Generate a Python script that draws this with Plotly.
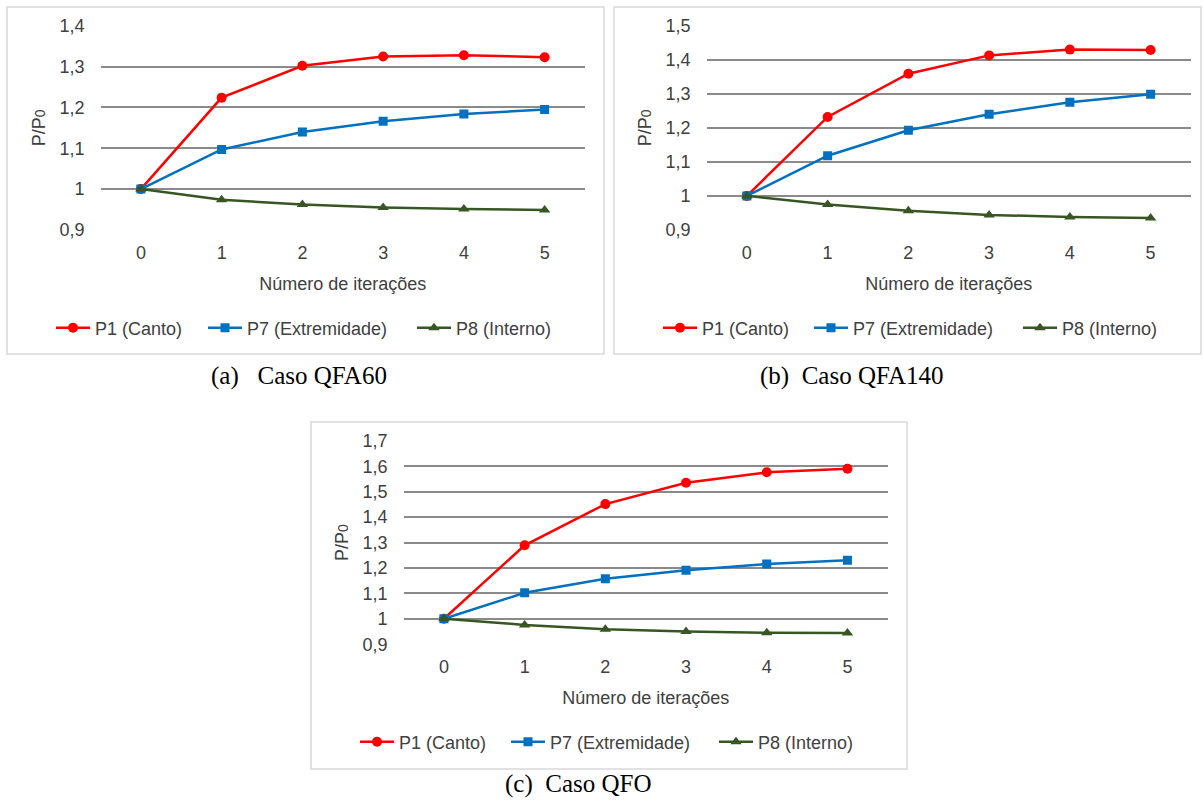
import plotly.graph_objects as go

W, H = 1203, 800

# ---------------- data ----------------
iterations = [0, 1, 2, 3, 4, 5]
x_ticklabels = ["0", "1", "2", "3", "4", "5"]
series_names = ["P1 (Canto)", "P7 (Extremidade)", "P8 (Interno)"]

qfa60_p1 = [1.000, 1.224, 1.302, 1.325, 1.328, 1.323]
qfa60_p7 = [1.000, 1.097, 1.140, 1.166, 1.184, 1.195]
qfa60_p8 = [1.000, 0.974, 0.962, 0.955, 0.951, 0.949]

qfa140_p1 = [1.000, 1.232, 1.359, 1.413, 1.430, 1.429]
qfa140_p7 = [1.000, 1.118, 1.193, 1.240, 1.275, 1.299]
qfa140_p8 = [1.000, 0.975, 0.956, 0.944, 0.938, 0.935]

qfo_p1 = [1.000, 1.289, 1.451, 1.535, 1.576, 1.590]
qfo_p7 = [1.000, 1.102, 1.157, 1.191, 1.215, 1.230]
qfo_p8 = [1.000, 0.976, 0.959, 0.950, 0.945, 0.944]

yticks_a = [0.9, 1.0, 1.1, 1.2, 1.3, 1.4]
yticklabels_a = ["0,9", "1", "1,1", "1,2", "1,3", "1,4"]
yticks_b = [0.9, 1.0, 1.1, 1.2, 1.3, 1.4, 1.5]
yticklabels_b = ["0,9", "1", "1,1", "1,2", "1,3", "1,4", "1,5"]
yticks_c = [0.9, 1.0, 1.1, 1.2, 1.3, 1.4, 1.5, 1.6, 1.7]
yticklabels_c = ["0,9", "1", "1,1", "1,2", "1,3", "1,4", "1,5", "1,6", "1,7"]

captions = ["(a)\u00a0\u00a0\u00a0Caso QFA60", "(b)\u00a0\u00a0Caso QFA140", "(c)\u00a0\u00a0Caso QFO"]
x_title = "Número de iterações"
y_title = "P/P<span style='font-size:14px'>0</span>"

# ---------------- styling / layout (pixels) ----------------
colors = ["#ff0000", "#0070c0", "#375623"]
symbols = ["circle", "square", "triangle-up"]
msizes = [10, 9, 10]
TXT = "#404040"
FONT = "Liberation Sans, Arial, sans-serif"
FS = 18

panels = [
    dict(data=[qfa60_p1, qfa60_p7, qfa60_p8], yt=yticks_a, yl=yticklabels_a,
         plot=(100.5, 585.0, 25.7, 230.0), box=(7, 604, 7, 354),
         leg_x=[58, 210, 419], leg_y=328, cap=(299, 376)),
    dict(data=[qfa140_p1, qfa140_p7, qfa140_p8], yt=yticks_b, yl=yticklabels_b,
         plot=(706.5, 1191.0, 25.7, 230.0), box=(614, 1201, 7, 354),
         leg_x=[665, 816, 1025], leg_y=328, cap=(852, 376)),
    dict(data=[qfo_p1, qfo_p7, qfo_p8], yt=yticks_c, yl=yticklabels_c,
         plot=(403.6, 887.8, 440.7, 644.3), box=(311, 907, 422, 769),
         leg_x=[362, 513, 721], leg_y=742, cap=(578, 784)),
]

def px_x(v):
    return v / W

def px_y(v):
    return 1 - v / H

fig = go.Figure()
layout = dict(
    width=W, height=H, margin=dict(l=0, r=0, t=0, b=0),
    paper_bgcolor="white", plot_bgcolor="white",
    font=dict(family=FONT, size=FS, color=TXT),
    separators=",.", showlegend=True, shapes=[], annotations=[],
)

leg_idx = 0
for i, p in enumerate(panels):
    ax = "" if i == 0 else str(i + 1)
    x0, x1, yt_, yb_ = p["plot"]
    for j in range(3):
        leg_idx += 1
        lname = "legend" if leg_idx == 1 else f"legend{leg_idx}"
        fig.add_trace(go.Scatter(
            x=iterations, y=p["data"][j], name=series_names[j],
            mode="lines+markers", xaxis="x" + ax, yaxis="y" + ax,
            line=dict(color=colors[j], width=2.5),
            marker=dict(symbol=symbols[j], size=msizes[j], color=colors[j]),
            legend=lname, hoverinfo="skip",
        ))
        layout[lname] = dict(
            x=px_x(p["leg_x"][j] - 7), y=px_y(p["leg_y"]), xanchor="left", yanchor="middle",
            orientation="h", bgcolor="rgba(0,0,0,0)", borderwidth=0, itemwidth=34,
            font=dict(family=FONT, size=FS, color=TXT),
        )
    ymin, ymax = p["yt"][0], p["yt"][-1]
    layout["xaxis" + ax] = dict(
        domain=[px_x(x0), px_x(x1)], anchor="y" + ax, range=[-0.5, 5.5],
        tickvals=iterations, ticktext=x_ticklabels, showgrid=False, zeroline=False,
        showline=False, ticks="", ticklabelstandoff=10,
        title=dict(text=x_title, standoff=15, font=dict(size=FS, color=TXT)),
        automargin=False, fixedrange=True,
    )
    layout["yaxis" + ax] = dict(
        domain=[px_y(yb_), px_y(yt_)], anchor="x" + ax,
        range=[ymin - 0.0005 * (ymax - ymin), ymax + 0.0005 * (ymax - ymin)],
        tickvals=p["yt"], ticktext=p["yl"], showgrid=True, gridcolor="#8a8a8a", gridwidth=1.5,
        zeroline=False, showline=False, ticks="", ticklabelstandoff=15,
        title=dict(text=y_title, standoff=9, font=dict(size=FS, color=TXT)),
        automargin=False, fixedrange=True,
    )
    bx0, bx1, by0, by1 = p["box"]
    layout["shapes"].append(dict(
        type="rect", xref="paper", yref="paper",
        x0=px_x(bx0), x1=px_x(bx1), y0=px_y(by1), y1=px_y(by0),
        line=dict(color="#d9d9d9", width=1.5), fillcolor="rgba(0,0,0,0)", layer="below",
    ))
    cx, cy = p["cap"]
    layout["annotations"].append(dict(
        text=captions[i], xref="paper", yref="paper", x=px_x(cx), y=px_y(cy),
        xanchor="center", yanchor="middle", showarrow=False,
        font=dict(family="Liberation Serif, Times New Roman, serif", size=25, color="black"),
    ))

fig.update_layout(**layout)
fig.write_html("out.html")
